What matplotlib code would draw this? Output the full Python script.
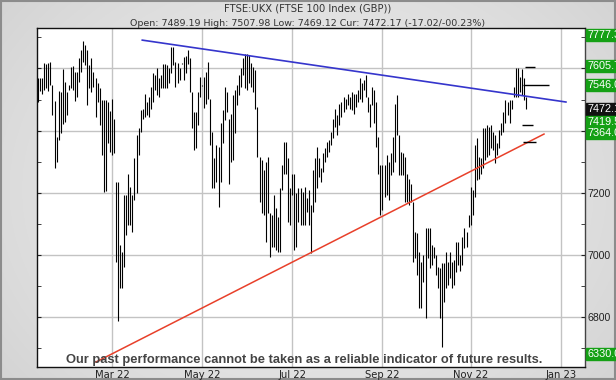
import numpy as np
import pandas as pd
import matplotlib
matplotlib.use("Agg")
import matplotlib.pyplot as plt
from matplotlib.patches import Rectangle
from matplotlib.ticker import MultipleLocator, FixedLocator, FuncFormatter

# ---------------- data ----------------
title = "FTSE:UKX (FTSE 100 Index (GBP))"
subtitle = "Open: 7489.19 High: 7507.98 Low: 7469.12 Cur: 7472.17 (-17.02/-00.23%)"
disclaimer = "Our past performance cannot be taken as a reliable indicator of future results."

first_day = "2022-01-10"
last_day = "2022-12-08"

highs = [
    7568, 7570, 7570, 7616, 7613, 7619, 7621, 7548, 7495, 7380, 7527, 7525, 7597, 7557, 7525, 7546,
    7605, 7608, 7589, 7589, 7632, 7659, 7688, 7675, 7659, 7610, 7632, 7589, 7570, 7552, 7536, 7498,
    7498, 7498, 7493, 7463, 7503, 7439, 7236,
    7236, 7032, 7011, 7193, 7193, 7259, 7220, 7193, 7311, 7386, 7407, 7466, 7471, 7519, 7493, 7509,
    7541, 7584, 7578, 7600, 7568, 7578, 7613, 7613, 7610, 7600, 7669, 7669, 7621, 7616, 7602, 7617,
    7637, 7640, 7659, 7632, 7525, 7461, 7461, 7525, 7573,
    7548, 7573, 7589, 7621, 7503, 7396, 7311, 7353, 7348, 7423, 7466, 7541, 7525, 7439, 7455, 7514,
    7530, 7546, 7578, 7600, 7632, 7648, 7648, 7643, 7616, 7605, 7594, 7477, 7316, 7305, 7273, 7300,
    7316, 7134, 7129, 7193, 7150, 7123, 7214, 7289, 7364, 7364,
    7311, 7214, 7262, 7262, 7198, 7214, 7214, 7203, 7220, 7182, 7209, 7161, 7273, 7311, 7348, 7311,
    7279, 7327, 7343, 7364, 7369, 7396, 7439, 7471, 7450, 7487, 7493, 7509, 7503, 7519, 7509, 7525,
    7519, 7519, 7530, 7568, 7552, 7562, 7580, 7509, 7487, 7541,
    7530, 7493, 7380, 7289, 7289, 7289, 7321, 7300, 7327, 7380, 7487, 7514, 7386, 7332, 7327, 7316,
    7262, 7246, 7230, 7171, 7075, 7070, 7011, 6979, 7000, 7086, 7086, 7086, 7032, 7027, 7000, 6963,
    6957, 6973, 6973, 7011, 6979, 7011, 6979, 6984, 7043, 7043,
    7000, 7059, 7086, 7075, 7129, 7220, 7209, 7353, 7375, 7316, 7311, 7407, 7407, 7418, 7412, 7418,
    7396, 7386, 7359, 7402, 7423, 7461, 7498, 7493, 7498, 7498, 7541, 7600, 7600, 7573, 7598, 7568,
    7508,
]
lows = [
    7491, 7527, 7519, 7530, 7536, 7527, 7548, 7450, 7281, 7300, 7370, 7391, 7420, 7428, 7450, 7530,
    7536, 7530, 7495, 7509, 7557, 7589, 7621, 7610, 7482, 7536, 7525, 7541, 7444, 7493, 7418, 7321,
    7203, 7207, 7359, 7330, 7321, 7327, 6979,
    6788, 6893, 6893, 6963, 7064, 7096, 7096, 7075, 7177, 7198, 7321, 7396, 7439, 7444, 7450, 7444,
    7471, 7493, 7530, 7514, 7509, 7536, 7536, 7536, 7536, 7552, 7584, 7610, 7541, 7552, 7562, 7613,
    7562, 7584, 7613, 7525, 7407, 7337, 7343, 7418, 7509,
    7544, 7473, 7487, 7503, 7353, 7214, 7214, 7236, 7155, 7236, 7359, 7434, 7461, 7227, 7300, 7305,
    7391, 7482, 7514, 7541, 7578, 7536, 7530, 7552, 7541, 7525, 7471, 7316, 7171, 7134, 7129, 7043,
    7134, 6995, 7027, 7027, 7016, 7011, 7011, 7209, 7262, 7262,
    7107, 7096, 7193, 7016, 7027, 7107, 7096, 7096, 7096, 7139, 7096, 7005, 7139, 7171, 7214, 7252,
    7236, 7268, 7300, 7316, 7332, 7353, 7375, 7412, 7386, 7418, 7444, 7461, 7471, 7482, 7471, 7466,
    7455, 7477, 7493, 7503, 7493, 7530, 7509, 7461, 7412, 7482,
    7423, 7348, 7262, 7129, 7145, 7187, 7193, 7177, 7257, 7268, 7300, 7386, 7257, 7257, 7257, 7171,
    7171, 7161, 7171, 6979, 6989, 6936, 6829, 6829, 6914, 6796, 6989, 6957, 6968, 6989, 6936, 6893,
    6796, 6705, 6850, 6893, 6904, 6925, 6893, 6904, 6946, 6968,
    6949, 6968, 7024, 7027, 7091, 7096, 7129, 7187, 7241, 7246, 7262, 7279, 7305, 7316, 7321, 7343,
    7337, 7295, 7321, 7343, 7386, 7396, 7423, 7450, 7423, 7471, 7509, 7509, 7509, 7525, 7514, 7498,
    7469,
]

month_labels = ["Mar 22", "May 22", "Jul 22", "Sep 22", "Nov 22", "Jan 23"]
month_starts = ["2022-03-01", "2022-05-01", "2022-07-01", "2022-09-01", "2022-11-01", "2023-01-01"]

# price-axis labels that are visible (7600 and 7400 sit under the level boxes)
price_labels = [7200, 7000, 6800]

# trend lines (bar index, price)
blue_x = [50.8, 257.5]
blue_y = [7691, 7492]
red_x = [28.2, 246.8]
red_y = [6656, 7389]

# target levels shown at right
level_values = [7777.35, 7605.75, 7546.05, 7472.17, 7419.55, 7364.05, 6330.05]
level_texts = ["7777.35", "7605.75", "7546.05", "7472.17", "7419.55", "7364.05", "6330.05"]
level_kinds = ["target", "target", "target", "current", "target", "target", "target"]

# ---------------- layout ----------------
W, H = 616, 380
fig = plt.figure(figsize=(W / 100, H / 100), dpi=100)

# background gradient
bg = fig.add_axes([0, 0, 1, 1], zorder=-10)
gx = np.linspace(-1, 1, 300)
gy = np.linspace(-1, 1, 200)
GX, GY = np.meshgrid(gx, gy)
shade = 0.91 - 0.05 * (GX ** 2) - 0.03 * (GY ** 2)
bg.imshow(np.dstack([shade, shade, shade]), extent=[0, 1, 0, 1], aspect="auto", origin="lower")
bg.add_patch(Rectangle((0.0015, 0.0025), 0.997, 0.995, transform=bg.transAxes,
                       fill=False, ec="#8c8c8c", lw=1.5))
bg.set_xlim(0, 1)
bg.set_ylim(0, 1)
bg.axis("off")

def fx(px):
    return px / W

def fy(py):
    return 1 - py / H

ax_l, ax_r, ax_t, ax_b = 36.5, 585.0, 28.0, 367.0
ax = fig.add_axes([fx(ax_l), fy(ax_b), fx(ax_r - ax_l), (ax_b - ax_t) / H])
ax.set_facecolor("white")

n = len(highs)
xs = np.arange(n)
all_days = pd.bdate_range(first_day, "2023-01-31")
tick_pos = [int(np.searchsorted(all_days, pd.Timestamp(d))) for d in month_starts]

ax.set_xlim(-0.8, 266.8)
ax.set_ylim(6640, 7730)

# grid
ax.set_xticks(tick_pos)
ax.set_xticklabels(month_labels)
ax.yaxis.set_major_locator(MultipleLocator(200))
ax.yaxis.set_minor_locator(MultipleLocator(100))
ax.yaxis.set_major_formatter(FuncFormatter(lambda v, p: f"{v:.0f}" if round(v) in price_labels else ""))
ax.grid(True, which="major", color="#c3c3c3", lw=1.0, zorder=0)
ax.set_axisbelow(True)

# bars
ax.vlines(xs, lows, highs, color="black", lw=0.8, zorder=3)

# trend lines
ax.plot(blue_x, blue_y, color="#3535cc", lw=1.2, zorder=4)
ax.plot(red_x, red_y, color="#e8402a", lw=1.1, zorder=4)

# target markers
last = n - 1
marker_spans = {7605.75: (-0.5, 4.4), 7546.05: (-1.5, 11.2), 7419.55: (-2.0, 3.4), 7364.05: (-1.5, 5.0)}
for lv, (a, b) in marker_spans.items():
    ax.hlines(lv, last + a, last + b, color="black", lw=1.0, zorder=4)

# ticks and spines
ax.tick_params(axis="x", length=0, labelsize=7.2, pad=2.2, colors="#222222")
ax.tick_params(axis="y", which="both", direction="in", length=3, left=True, right=True,
               labelleft=False, labelright=True, labelsize=7.6, pad=2, colors="#222222")
for lab in ax.get_yticklabels():
    lab.set_family("Liberation Sans")
for s in ["left", "bottom", "top"]:
    ax.spines[s].set_color("#111111")
    ax.spines[s].set_linewidth(1.0)
ax.spines["right"].set_color("#444444")
ax.spines["right"].set_linewidth(1.0)

# titles
fig.text(0.5, fy(8.5), title, ha="center", va="center", fontsize=7.2, color="#333333",
         family="DejaVu Sans")
fig.text(0.5, fy(23.0), subtitle, ha="center", va="center", fontsize=6.8, color="#333333",
         family="DejaVu Sans")

# right-side level labels (stacked boxes)
label_centres = [34.5, 65.8, 85.0, 108.8, 122.0, 133.0, 354.0]
for val, txt, kind, cy in zip(level_values, level_texts, level_kinds, label_centres):
    col = "#111111" if kind == "current" else "#15a015"
    fig.patches.append(Rectangle((fx(585.5), fy(cy + 6)), fx(31), 12 / H,
                                 transform=fig.transFigure, color=col, zorder=5))
    fig.text(fx(587), fy(cy), txt, ha="left", va="center", fontsize=7.8, color="white",
             family="Liberation Sans", zorder=6)

# disclaimer
fig.text(fx(304), fy(360), disclaimer, ha="center", va="center", fontsize=9.3,
         fontweight="bold", color="#444444", family="Liberation Sans", zorder=7)

fig.savefig("out.png", dpi=100)
